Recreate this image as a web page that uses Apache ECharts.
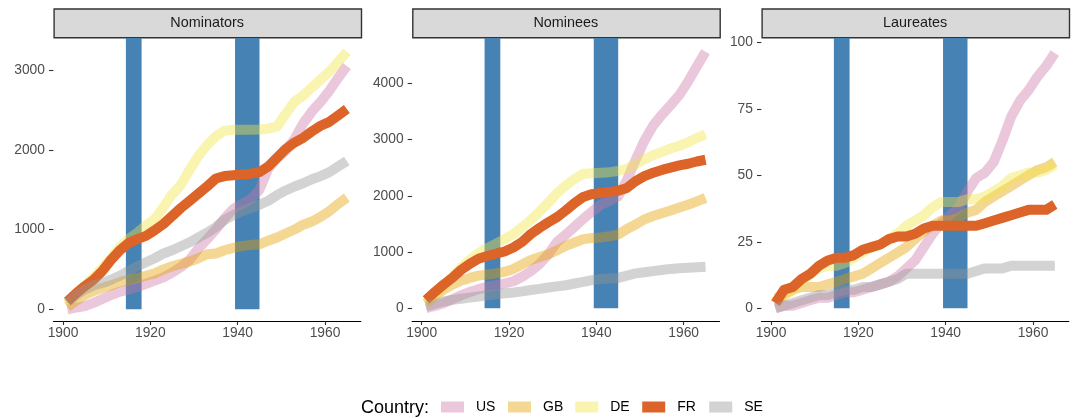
<!DOCTYPE html>
<html><head><meta charset="utf-8">
<script src="https://cdn.jsdelivr.net/npm/echarts@6/dist/echarts.min.js"></script>
<style>html,body{margin:0;padding:0;background:#fff}#c{width:1078px;height:418px}</style>
</head><body><div id="c"></div>
<script>
// ---- data ----
const years = [1901,1903,1905,1907,1909,1911,1913,1915,1917,1919,1921,1923,1925,1927,1929,1931,1933,1935,1937,1939,1941,1943,1945,1947,1949,1951,1953,1955,1957,1959,1961,1963,1965];
const countries = ['US','GB','DE','FR','SE'];
const panels = ['Nominators','Nominees','Laureates'];
const xTicks = [1900,1920,1940,1960];
const yTicksNom = [0,1000,2000,3000];
const yTicksNee = [0,1000,2000,3000,4000];
const yTicksLau = [0,25,50,75,100];
const wars = [[1914.4,1918],[1939.4,1945]];

// Nominators
const nomUS = [0,20,40,80,130,180,220,250,280,320,360,400,460,530,620,760,880,1000,1140,1260,1320,1380,1500,1760,1890,1990,2130,2330,2480,2600,2740,2900,3050];
const nomGB = [30,110,180,230,270,300,340,370,390,420,450,500,540,570,600,640,690,700,740,770,795,805,815,860,900,950,1000,1060,1100,1160,1230,1320,1400];
const nomDE = [60,200,300,400,520,640,780,880,960,1050,1130,1280,1440,1560,1750,1920,2060,2170,2240,2250,2250,2250,2255,2265,2290,2450,2600,2680,2780,2880,2980,3100,3230];
const nomFR = [100,200,290,370,480,620,740,830,880,920,990,1070,1170,1270,1360,1450,1540,1640,1670,1680,1690,1700,1720,1790,1900,2010,2090,2150,2230,2300,2350,2430,2510];
const nomSE = [80,180,250,300,330,370,420,480,540,590,640,700,740,790,840,900,960,1030,1120,1180,1230,1270,1310,1360,1430,1490,1540,1580,1630,1670,1720,1790,1860];
// Nominees
const neeUS = [0,40,90,160,230,290,340,380,410,440,480,560,660,790,960,1180,1310,1450,1590,1720,1840,1910,1990,2280,2640,2980,3250,3440,3610,3790,4030,4300,4560];
const neeGB = [90,220,330,420,490,540,580,600,620,650,700,780,860,910,960,1030,1110,1170,1230,1250,1260,1280,1310,1410,1490,1580,1640,1690,1740,1790,1840,1900,1960];
const neeDE = [80,230,390,560,720,860,980,1070,1150,1230,1320,1440,1570,1720,1880,2050,2180,2300,2390,2400,2410,2420,2440,2480,2560,2650,2720,2780,2840,2890,2950,3030,3090];
const neeFR = [150,290,420,540,680,790,880,930,970,1010,1080,1180,1320,1430,1530,1620,1740,1870,1980,2030,2050,2070,2090,2140,2260,2350,2410,2460,2500,2540,2570,2610,2640];
const neeSE = [30,80,120,150,170,190,210,230,250,265,280,300,325,345,370,390,410,440,470,500,520,530,540,580,620,640,660,680,700,710,720,730,740];
// Laureates
const lauUS = [0,1,1,2,3,4,4,5,6,6,7,8,9,10,12,15,18,23,28,32,35,38,44,49,51,55,63,72,78,82,87,91,96];
const lauGB = [2,5,7,8,8,8,9,10,11,12,13,15,17,19,21,23,26,29,31,33,33,34,36,37,40,42,44,46,48,50,52,53,55];
const lauDE = [4,5,7,10,13,15,16,16,17,19,21,23,24,26,28,31,33,35,38,40,40,40,41,41,42,44,46,49,50,51,51,52,54];
const lauFR = [2,7,8,11,13,16,18,19,19,20,22,23,24,26,27,27,28,30,31,31,31,31,31,31,32,33,34,35,36,37,37,37,39];
const lauSE = [0,1,2,3,4,5,5,6,7,7,8,8,9,10,11,13,13,13,13,13,13,13,13,14,15,15,15,16,16,16,16,16,16];

// ---- styling ----
const colors = ['rgba(204,121,167,0.42)','rgba(230,159,0,0.42)','rgba(240,228,66,0.42)','#DC6428','rgba(150,150,150,0.42)'];
const FONT = "'Liberation Sans', Arial, Helvetica, sans-serif";
const panelData = [[nomUS,nomGB,nomDE,nomFR,nomSE],[neeUS,neeGB,neeDE,neeFR,neeSE],[lauUS,lauGB,lauDE,lauFR,lauSE]];
const yTicks = [yTicksNom, yTicksNee, yTicksLau];
const yRange = [[-153,3401],[-235,4805],[-4.96,101.6]];
const gridLeft = [53.4, 412.1, 761.4];
const gridW = 307.4, gridTop = 38, gridH = 283.5;
const plain = v => String(v);

const grids = [], xAxes = [], yAxes = [], series = [], graphics = [];
panels.forEach((p,i)=>{
  grids.push({left:gridLeft[i], top:gridTop, width:gridW, height:gridH, containLabel:false});
  xAxes.push({type:'value', gridIndex:i, min:1897.8, max:1968.2,
    axisLine:{show:true, onZero:false, lineStyle:{color:'#000', width:1.1}},
    axisTick:{show:true, customValues:xTicks, length:3.5, lineStyle:{color:'#333', width:1.1}},
    axisLabel:{customValues:xTicks, formatter:plain, color:'#4D4D4D', fontSize:13.8, margin:5, fontFamily:FONT},
    splitLine:{show:false}});
  yAxes.push({type:'value', gridIndex:i, min:yRange[i][0], max:yRange[i][1],
    axisLine:{show:false},
    axisTick:{show:true, customValues:yTicks[i], length:4.4, lineStyle:{color:'#333', width:1.1}},
    axisLabel:{customValues:yTicks[i], formatter:plain, color:'#4D4D4D', fontSize:13.8, margin:8.5, fontFamily:FONT},
    splitLine:{show:false}});
  series.push({type:'custom', xAxisIndex:i, yAxisIndex:i, z:1, silent:true, animation:false,
    data: wars.map(w=>[w[0], w[1], 0]), encode:{x:[0,1], y:2},
    renderItem:(params, api)=>{
      const p0 = api.coord([api.value(0), 0]);
      const p1 = api.coord([api.value(1), 0]);
      const top = params.coordSys.y;
      return {type:'rect', shape:{x:p0[0], y:top, width:p1[0]-p0[0], height:p0[1]-top}, style:{fill:'#4682B4'}};
    }});
  countries.forEach((c,j)=>{
    series.push({type:'line', name:c, xAxisIndex:i, yAxisIndex:i, z:2, silent:true, animation:false,
      data: years.map((y,k)=>[y, panelData[i][j][k]]),
      showSymbol:false, symbol:'none', color:colors[j],
      itemStyle:{color:colors[j]},
      lineStyle:{width:10, join:'round', cap:'butt', color:colors[j]},
      emphasis:{disabled:true}});
  });
  graphics.push({type:'rect', left:gridLeft[i], top:8.3, silent:true,
    shape:{width:gridW, height:28.7}, style:{fill:'#D9D9D9', stroke:'#333333', lineWidth:1.4}});
  graphics.push({type:'text', x:gridLeft[i]+gridW/2, y:22.7, silent:true,
    style:{text:p, fill:'#1A1A1A', fontSize:14.4, fontFamily:FONT, align:'center', verticalAlign:'middle'}});
});
graphics.push({type:'text', x:361, y:408, silent:true,
  style:{text:'Country:', fill:'#000', fontSize:18, fontFamily:FONT, align:'left', verticalAlign:'middle'}});

const chart = echarts.init(document.getElementById('c'), null, {renderer:'canvas'});
chart.setOption({
  animation:false,
  backgroundColor:'#fff',
  textStyle:{fontFamily:FONT},
  grid:grids, xAxis:xAxes, yAxis:yAxes, series:series, graphic:graphics,
  legend:{left:441, top:400, padding:0, itemWidth:23, itemHeight:11, itemGap:12, icon:'rect',
    selectedMode:false, itemStyle:{borderWidth:0},
    textStyle:{fontSize:14, color:'#000', fontFamily:FONT, padding:[0,0,0,7], width:20, lineHeight:14},
    data: countries.map((c,j)=>({name:c, itemStyle:{color:colors[j], borderWidth:0}}))},
  tooltip:{show:false}
});
</script></body></html>
